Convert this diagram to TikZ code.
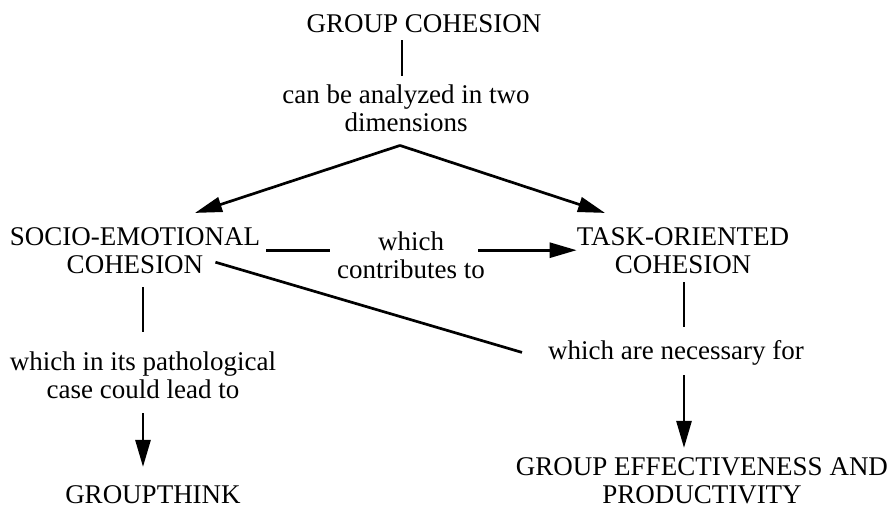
\documentclass[tikz,border=0pt]{standalone}
\usepackage{fontspec}
\setmainfont{Liberation Serif}
\usetikzlibrary{arrows.meta}
\begin{document}
\begin{tikzpicture}[x=1pt,y=-1pt,
  txt/.style={inner sep=0pt, anchor=base, align=center,
              font=\fontsize{27}{28}\selectfont},
  link/.style={line width=2.7pt},
  flow/.style={line width=2.7pt, -{Triangle[length=27pt,width=15pt]}}]
\useasboundingbox[fill=white] (0,0) rectangle (896,515);

% concepts and linking phrases (positioned on the baseline of their last line)
\node[txt] (gc)      at (424,32)  {GROUP COHESION};
\node[txt] (dim)     at (406,131) {can be analyzed in two\\dimensions};
\node[txt] (se)      at (135,273) {SOCIO-EMOTIONAL\\COHESION};
\node[txt] (contrib) at (411,278) {which\\contributes to};
\node[txt] (to)      at (683,273) {TASK-ORIENTED\\COHESION};
\node[txt] (path)    at (143,398) {which in its pathological\\case could lead to};
\node[txt] (gt)      at (153,503) {GROUPTHINK};
\node[txt] (nec)     at (676,359) {which are necessary for};
\node[txt] (eff)     at (702,503) {GROUP EFFECTIVENESS AND\\PRODUCTIVITY};

% connectors
\draw[link] ([xshift=-22pt,yshift=-8pt]gc.south) -- ([xshift=-4pt,yshift=8pt]dim.north);
\draw[flow] ([xshift=-6pt,yshift=-14pt]dim.south) -- ([xshift=60pt,yshift=14pt]se.north);
\draw[flow] ([xshift=-6pt,yshift=-14pt]dim.south) -- ([xshift=-78pt,yshift=14pt]to.north);
\draw[link] ([xshift=6pt]se.east) -- ([xshift=-7pt]se.east -| contrib.west);
\draw[flow] ([xshift=-7pt]contrib.east |- se.east) -- (to.west |- se.east);
\draw[link] ([xshift=-45pt,yshift=-12pt]se.east) -- ([xshift=-26pt]nec.west);
\draw[link] ([xshift=8pt,yshift=-14pt]se.south) -- ([yshift=19pt]path.north);
\draw[flow] ([yshift=-15pt]path.south) -- ([xshift=-10pt,yshift=18pt]gt.north);
\draw[link] ([xshift=1pt,yshift=-9pt]to.south) -- ([xshift=8pt,yshift=13pt]nec.north);
\draw[flow] ([xshift=8pt,yshift=-10pt]nec.south) -- ([xshift=-18pt,yshift=9pt]eff.north);
\end{tikzpicture}
\end{document}
